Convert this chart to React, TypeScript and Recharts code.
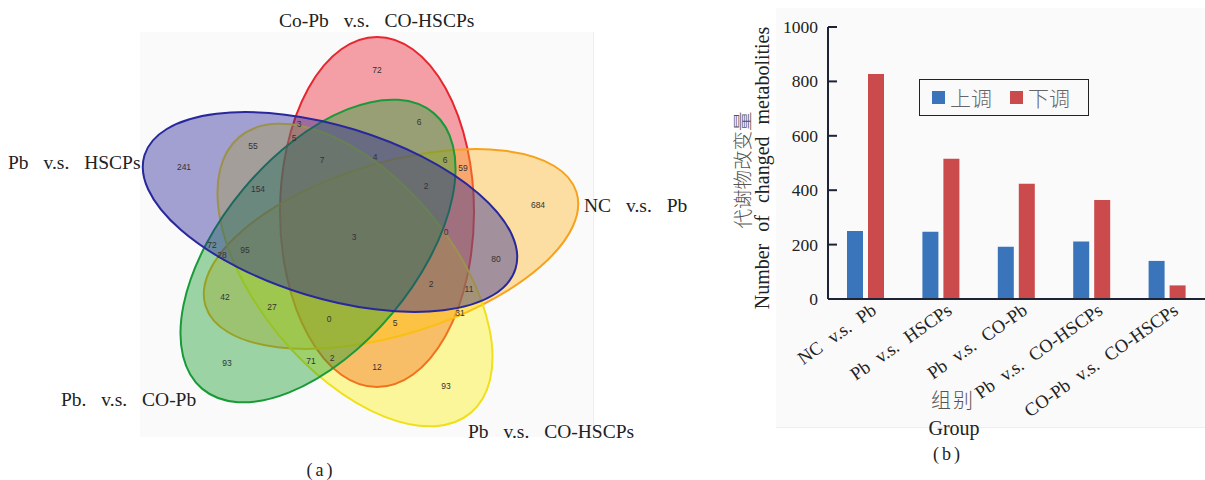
import React from 'react';
import { ScatterChart, Scatter, XAxis, YAxis, BarChart, Bar, Legend } from 'recharts';

// ---------- data ----------
const vennSets = ['Co-Pb v.s. CO-HSCPs', 'NC v.s. Pb', 'Pb v.s. CO-HSCPs', 'Pb. v.s. CO-Pb', 'Pb v.s. HSCPs'];
const regionCounts = [72, 3, 5, 55, 241, 6, 7, 4, 6, 59, 154, 2, 684, 0, 3, 72, 28, 95, 80, 42, 2, 11, 27, 0, 5, 31, 93, 71, 2, 12, 93];

const groups = ['NC v.s. Pb', 'Pb v.s. HSCPs', 'Pb v.s. CO-Pb', 'Pb v.s. CO-HSCPs', 'CO-Pb v.s. CO-HSCPs'];
const upValues = [250, 247, 192, 211, 140];
const downValues = [827, 516, 424, 364, 50];
const seriesNames = ['上调', '下调'];
const yTicks = [0, 200, 400, 600, 800, 1000];
const yLabelCn = '代谢物改变量';
const yLabelEn = 'Number of changed metabolities';
const xLabelCn = '组别';
const xLabelEn = 'Group';

// ---------- layout ----------
// ellipse geometry of each set (same order as vennSets)
const ellipseGeom = [
  { x: 377, y: 212, rx: 97, ry: 175, angle: 0 },
  { x: 391, y: 249, rx: 194, ry: 86, angle: -17 },
  { x: 355, y: 275, rx: 180, ry: 97, angle: 50 },
  { x: 318, y: 251, rx: 180, ry: 97, angle: -50 },
  { x: 330, y: 212, rx: 194, ry: 86, angle: 17 },
];
const ellipseStyle = [
  { fill: '#eb1e2d', op: 0.41, stroke: '#e8262f' },
  { fill: '#ffb41e', op: 0.4, stroke: '#f7a21b' },
  { fill: '#fff000', op: 0.38, stroke: '#efe01a' },
  { fill: '#1ea032', op: 0.43, stroke: '#199a38' },
  { fill: '#282396', op: 0.42, stroke: '#28289c' },
];
const titlePos = [
  { x: 279, y: 27 },
  { x: 584, y: 212 },
  { x: 468, y: 438 },
  { x: 61, y: 406 },
  { x: 8, y: 169 },
];
const regionLabelPos = [
  [377, 70], [299, 124], [294, 138], [253, 146], [184, 167], [419, 122], [322, 160], [375, 157],
  [445, 160], [463, 168], [258, 189], [426, 186], [538, 205], [446, 232], [354, 237], [212, 245],
  [222, 255], [245, 250], [496, 259], [225, 297], [431, 284], [469, 289], [272, 307], [329, 319],
  [395, 323], [460, 313], [227, 363], [311, 361], [332, 358], [377, 367], [446, 386],
];

const serif = '"Liberation Serif", "Times New Roman", serif';
const cjk = '"Noto Sans CJK SC", sans-serif';
const sans = '"Liberation Sans", Arial, sans-serif';

const ellipseData = ellipseGeom.map((g, i) => ({ ...g, i }));
const labelData = regionCounts.map((v, i) => ({ x: regionLabelPos[i][0], y: regionLabelPos[i][1], v }));
const barData = groups.map((g, i) => ({ group: g, up: upValues[i], down: downValues[i] }));

function EllipseShape(props: any) {
  const { cx, cy, payload } = props;
  const s = ellipseStyle[payload.i];
  return (
    <ellipse
      cx={cx}
      cy={cy}
      rx={payload.rx}
      ry={payload.ry}
      transform={`rotate(${payload.angle} ${cx} ${cy})`}
      fill={s.fill}
      fillOpacity={s.op}
      stroke={s.stroke}
      strokeWidth={2}
    />
  );
}

function CountShape(props: any) {
  const { cx, cy, payload } = props;
  return (
    <text x={cx} y={cy} textAnchor="middle" dominantBaseline="central" fontFamily={sans} fontSize={8.5} fill="#333">
      {payload.v}
    </text>
  );
}

function YTick(props: any) {
  const { x, y, payload } = props;
  return (
    <g>
      <line x1={x + 10} x2={x + 19} y1={y} y2={y} stroke="#1e2433" strokeWidth={2} />
      <text x={x} y={y} dy={6} textAnchor="end" fontFamily={serif} fontSize={17.5} fill="#222">
        {payload.value}
      </text>
    </g>
  );
}

function XTick(props: any) {
  const { x, y, payload } = props;
  return (
    <g transform={`translate(${x + 12},${y + 6})`}>
      <text x={0} y={0} textAnchor="end" transform="rotate(-35)" fontFamily={serif} fontSize={18.5} fill="#222" style={{ wordSpacing: 6 }}>
        {payload.value}
      </text>
    </g>
  );
}

function LegendBox(props: any) {
  const items = props.payload || [];
  return (
    <div style={{ width: 168, height: 35, border: '1px solid #222', display: 'flex', alignItems: 'center' }}>
      {items.map((p: any, i: number) => (
        <div key={i} style={{ display: 'flex', alignItems: 'center', marginLeft: i === 0 ? 12 : 18 }}>
          <div style={{ width: 13, height: 13, background: p.color }} />
          <span style={{ marginLeft: 5, fontFamily: cjk, fontSize: 21, color: '#666', lineHeight: '21px', fontWeight: 300 }}>{p.value}</span>
        </div>
      ))}
    </div>
  );
}

export default function App() {
  return (
    <div style={{ position: 'absolute', left: 0, top: 0, width: 1205, height: 480, background: '#fff', overflow: 'hidden' }}>
      <div style={{ position: 'absolute', left: 140, top: 32, width: 453, height: 405, background: '#fafafa', borderRight: '1px solid #eee' }} />
      <div style={{ position: 'absolute', left: 776, top: 8, width: 429, height: 419, background: '#fafafa', borderBottom: '1px solid #eee' }} />

      <div style={{ position: 'absolute', left: 0, top: 0 }}>
        <ScatterChart width={600} height={440} margin={{ top: 0, right: 0, bottom: 0, left: 0 }}>
          <XAxis type="number" dataKey="x" domain={[0, 600]} hide />
          <YAxis type="number" dataKey="y" domain={[0, 440]} reversed hide />
          <Scatter data={ellipseData} shape={EllipseShape} isAnimationActive={false} />
          <Scatter data={labelData} shape={CountShape} isAnimationActive={false} />
        </ScatterChart>
      </div>

      <div style={{ position: 'absolute', left: 720, top: 0 }}>
        <BarChart width={485} height={480} data={barData} margin={{ top: 27, right: 0, bottom: 151, left: 48 }} barSize={16} barGap={5}>
          <XAxis dataKey="group" tick={XTick} tickLine={false} interval={0} height={30} axisLine={{ stroke: '#1e2433', strokeWidth: 2 }} />
          <YAxis type="number" domain={[0, 1000]} ticks={yTicks} tickSize={0} tickMargin={10} tickLine={false} tick={YTick} width={60} axisLine={{ stroke: '#1e2433', strokeWidth: 2 }} />
          <Legend content={LegendBox} verticalAlign="middle" align="center" wrapperStyle={{ left: 199, top: 79, width: 170, height: 37 }} />
          <Bar dataKey="up" name={seriesNames[0]} fill="#3a75bb" isAnimationActive={false} />
          <Bar dataKey="down" name={seriesNames[1]} fill="#cb4a4c" isAnimationActive={false} />
        </BarChart>
      </div>

      <svg width={1205} height={480} style={{ position: 'absolute', left: 0, top: 0, pointerEvents: 'none' }}>
        {vennSets.map((t, i) => (
          <text key={i} x={titlePos[i].x} y={titlePos[i].y} textAnchor="start" fontFamily={serif} fontSize={19.5} fill="#222" style={{ wordSpacing: 10 }}>
            {t}
          </text>
        ))}
        <text x={321} y={476} textAnchor="middle" fontFamily={serif} fontSize={18} fill="#222" style={{ letterSpacing: 3 }}>(a)</text>

        <text transform="translate(741,170) rotate(-90)" textAnchor="middle" dominantBaseline="central" fontFamily={cjk} fontSize={19.5} fill="#555" fontWeight={300}>{yLabelCn}</text>
        <text transform="translate(762,168) rotate(-90)" textAnchor="middle" dominantBaseline="central" fontFamily={serif} fontSize={20} fill="#222" style={{ wordSpacing: 7 }}>{yLabelEn}</text>
        <text x={953} y={408} textAnchor="middle" fontFamily={cjk} fontSize={20} fill="#555" fontWeight={300} style={{ letterSpacing: 2 }}>{xLabelCn}</text>
        <text x={954} y={435} textAnchor="middle" fontFamily={serif} fontSize={20} fill="#222">{xLabelEn}</text>
        <text x={948} y={460} textAnchor="middle" fontFamily={serif} fontSize={18} fill="#222" style={{ letterSpacing: 3 }}>(b)</text>
      </svg>
    </div>
  );
}
